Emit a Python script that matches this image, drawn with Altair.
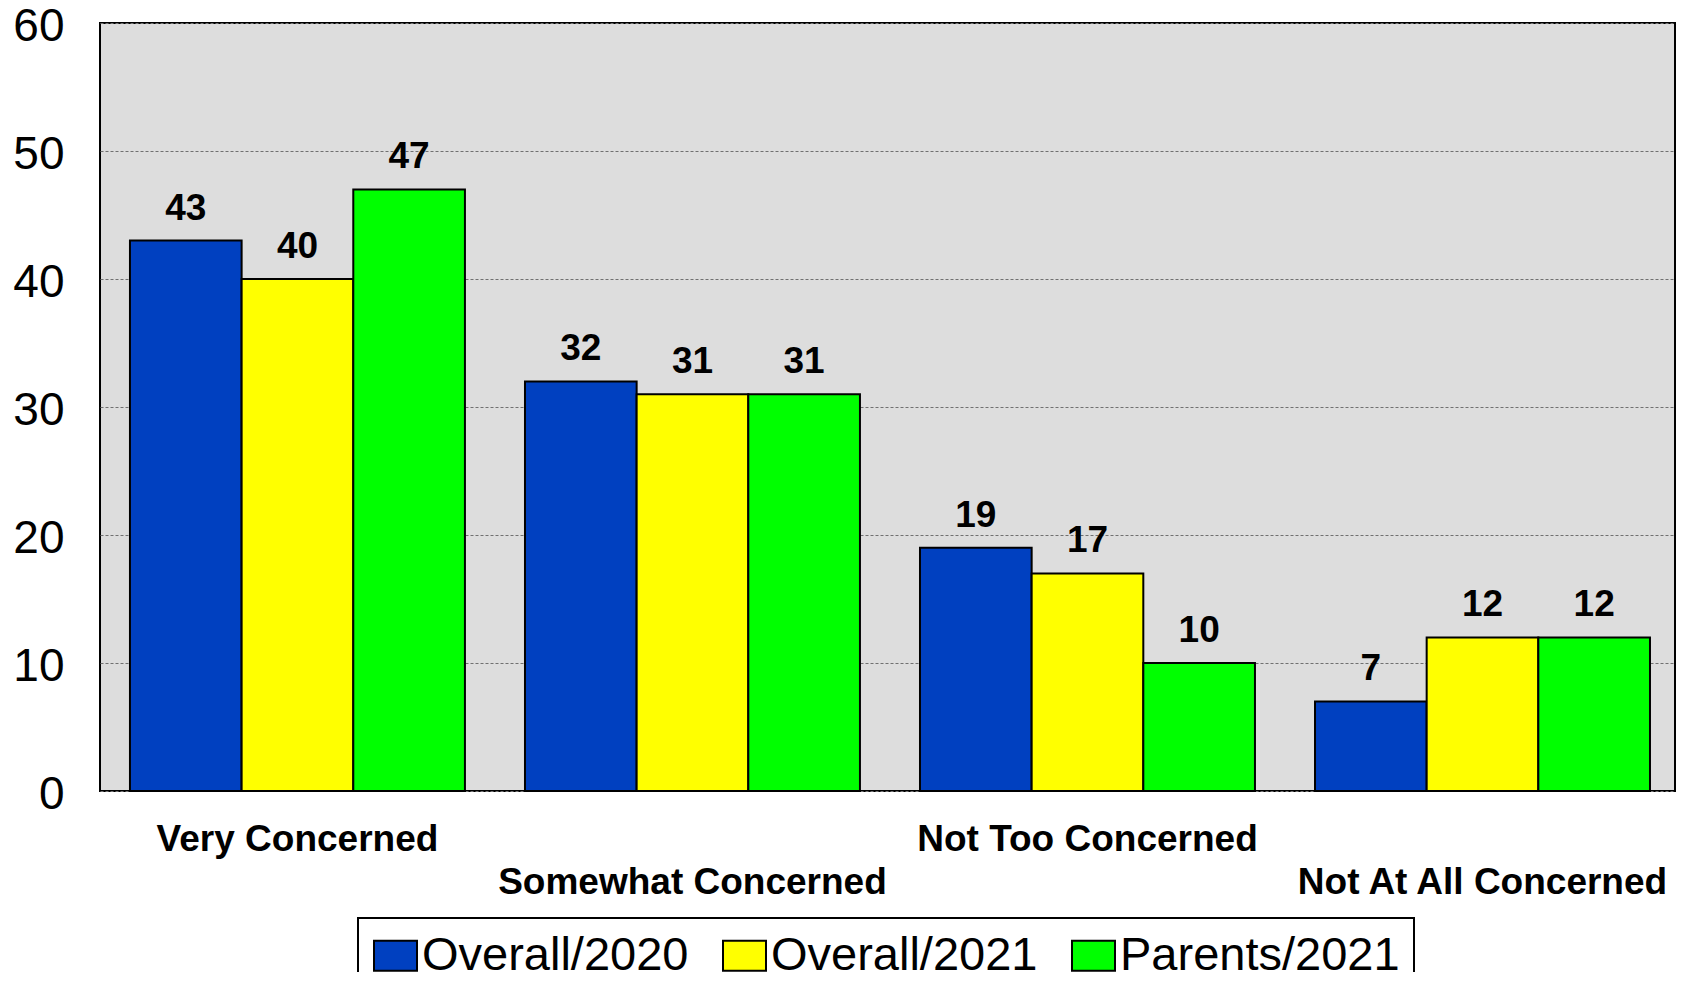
import altair as alt
import pandas as pd

categories = ["Very Concerned", "Somewhat Concerned", "Not Too Concerned", "Not At All Concerned"]
series = ["Overall/2020", "Overall/2021", "Parents/2021"]
overall_2020 = [43, 32, 19, 7]
overall_2021 = [40, 31, 17, 12]
parents_2021 = [47, 31, 10, 12]
colors = ["#0040C0", "#FFFF00", "#00FF00"]
y_ticks = [0, 10, 20, 30, 40, 50, 60]

rows = []
for s, vals in zip(series, [overall_2020, overall_2021, parents_2021]):
    for c, v in zip(categories, vals):
        rows.append({"category": c, "series": s, "value": v})
df = pd.DataFrame(rows)

FONT = "Liberation Sans"

x_scale = alt.Scale(paddingInner=0.152, paddingOuter=0.0696, align=0.545)

x_enc = alt.X(
    "category:N",
    sort=categories,
    scale=x_scale,
    axis=alt.Axis(
        title=None,
        labelAngle=0,
        labelFont=FONT,
        labelFontSize=37,
        labelFontWeight="bold",
        labelColor="black",
        labelLimit=0,
        labelBaseline="top",
        labelPadding=30,
        labelLineHeight=43,
        labelExpr="(datum.value == 'Somewhat Concerned' || datum.value == 'Not At All Concerned') ? ['', datum.label] : datum.label",
        ticks=False,
        domain=False,
        grid=False,
    ),
)
xoff_enc = alt.XOffset("series:N", sort=series, scale=alt.Scale(paddingInner=0, paddingOuter=0))
y_enc = alt.Y(
    "value:Q",
    scale=alt.Scale(domain=[0, 60], nice=False),
    axis=alt.Axis(
        title=None,
        values=y_ticks,
        labelFont=FONT,
        labelFontSize=46,
        labelColor="black",
        labelPadding=36,
        labelOffset=3,
        ticks=False,
        domain=False,
        grid=True,
        gridColor="#707070",
        gridDash=[3, 2],
        gridWidth=1,
    ),
)

bars = alt.Chart(df).mark_bar(stroke="black", strokeWidth=2).encode(
    x=x_enc,
    xOffset=xoff_enc,
    y=y_enc,
    color=alt.Color(
        "series:N",
        sort=series,
        scale=alt.Scale(domain=series, range=colors),
        legend=alt.Legend(
            title=None,
            orient="none",
            direction="horizontal",
            legendX=258,
            legendY=895,
            labelFont=FONT,
            labelFontSize=47,
            labelColor="black",
            labelLimit=0,
            labelOffset=3,
            columnPadding=30,
            padding=14,
            strokeColor="black",
            fillColor="white",
            symbolType="M-1,-0.7H1V0.7H-1Z",
            symbolSize=1849,
            symbolStrokeColor="black",
            symbolStrokeWidth=2,
            symbolOpacity=1,
        ),
    ),
)

labels = alt.Chart(df).mark_text(
    font=FONT, fontSize=37, fontWeight="bold", color="black", baseline="alphabetic", dy=-21
).encode(
    x=alt.X("category:N", sort=categories),
    xOffset=alt.XOffset("series:N", sort=series),
    y="value:Q",
    text="value:Q",
)

chart = (
    alt.layer(bars, labels)
    .properties(
        width=1575,
        height=768,
        padding={"left": 92, "top": 15, "right": 1, "bottom": 181},
        autosize=alt.AutoSizeParams(type="none"),
    )
    .configure_view(fill="#DDDDDD", stroke="black", strokeWidth=2)
    .configure_legend(strokeWidth=2)
)

chart.save("out.html", embed_options={"renderer": "svg", "actions": False})
